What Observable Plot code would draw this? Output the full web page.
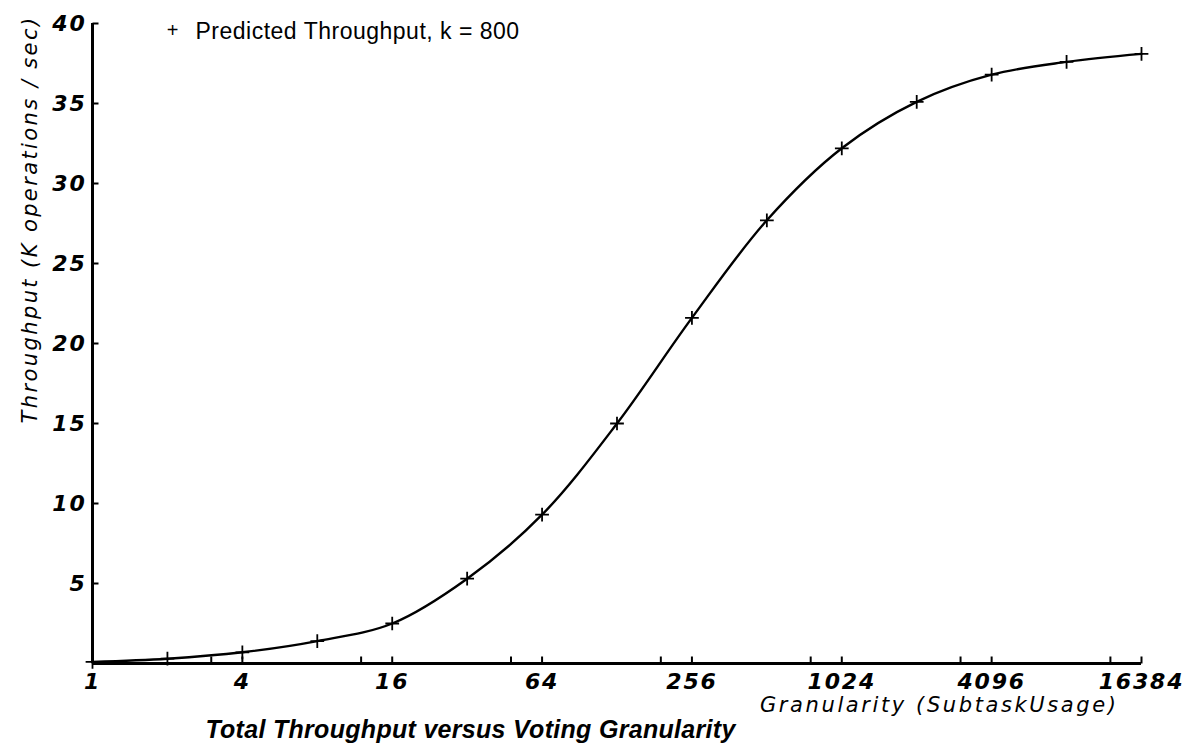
<!DOCTYPE html>
<html>
<head>
<meta charset="utf-8">
<script src="https://cdn.jsdelivr.net/npm/d3@7"></script>
<script src="https://cdn.jsdelivr.net/npm/@observablehq/plot@0.6"></script>
<style>
  html, body { margin: 0; padding: 0; background: #fff; }
  #chart { width: 1202px; height: 755px; }
  g[aria-label="x-axis tick label"] text, g[aria-label="y-axis tick label"] text { letter-spacing: 1.8px; }
</style>
</head>
<body>
<div id="chart"></div>
<script>
// Data
const granularity = [1, 2, 4, 8, 16, 32, 64, 128, 256, 512, 1024, 2048, 4096, 8192, 16384];
const throughput  = [0.1, 0.3, 0.7, 1.4, 2.5, 5.3, 9.3, 15.0, 21.6, 27.7, 32.2, 35.1, 36.8, 37.6, 38.1];
const xTickLabels = [1, 4, 16, 64, 256, 1024, 4096, 16384];
const xMinorTicks = [3, 12, 48, 192, 768, 3072, 12288];
const yTickLabels = [5, 10, 15, 20, 25, 30, 35, 40];
const legendText = "Predicted Throughput, k = 800";
const xLabel = "Granularity (SubtaskUsage)";
const yLabel = "Throughput (K operations / sec)";
const title = "Total Throughput versus Voting Granularity";

const data = granularity.map((g, i) => ({g, t: throughput[i]}));

const upTick = {draw(ctx) { ctx.moveTo(0, 0); ctx.lineTo(0, -7); }};
const rightTick = {draw(ctx) { ctx.moveTo(0, 0); ctx.lineTo(6, 0); }};

const font = "Liberation Sans, Arial, Helvetica, sans-serif";
const wide = "DejaVu Sans, Verdana, sans-serif";

const chart = Plot.plot({
  width: 1202,
  height: 755,
  marginLeft: 92,
  marginRight: 61,
  marginTop: 23,
  marginBottom: 92,
  style: {background: "#fff", color: "#000", fontFamily: font},
  x: {type: "log", base: 2, domain: [1, 16384]},
  y: {domain: [0, 40]},
  marks: [
    Plot.axisX({ticks: xTickLabels, tickFormat: d => String(d), tickSize: 0, tickPadding: 10,
      fontFamily: wide, fontSize: 22, fontWeight: "bold", fontStyle: "italic", label: null, fill: "#000"}),
    Plot.axisY({ticks: yTickLabels, tickSize: 0, tickPadding: 6,
      fontFamily: wide, fontSize: 22, fontWeight: "bold", fontStyle: "italic", label: null, fill: "#000"}),
    Plot.dot(xTickLabels.concat(xMinorTicks), {x: d => d, frameAnchor: "bottom", symbol: upTick, stroke: "#000", strokeWidth: 2}),
    Plot.dot(yTickLabels, {y: d => d, frameAnchor: "left", symbol: rightTick, stroke: "#000", strokeWidth: 2}),
    Plot.ruleX([1], {stroke: "#000", strokeWidth: 3}),
    Plot.ruleY([0], {stroke: "#000", strokeWidth: 3}),
    Plot.line(data, {x: "g", y: "t", curve: "catmull-rom", stroke: "#000", strokeWidth: 2.4}),
    Plot.dot(data, {x: "g", y: "t", symbol: "plus", r: 4.5, stroke: "#000", strokeWidth: 1.8}),
    Plot.text(["+"], {frameAnchor: "top-left", dx: 80, dy: -1, fontSize: 20, fill: "#000", textAnchor: "middle"}),
    Plot.text([legendText], {frameAnchor: "top-left", dx: 103, dy: -1, fontSize: 23, fill: "#000", textAnchor: "start"}),
    Plot.text([xLabel], {frameAnchor: "bottom-right", dx: -23, dy: 48, fontFamily: wide, fontSize: 21, fontStyle: "italic", fill: "#000", textAnchor: "end"}),
    Plot.text([title], {frameAnchor: "bottom-left", dx: 378, dy: 74, fontSize: 25, fontStyle: "italic", fontWeight: "bold", fill: "#000", textAnchor: "middle"}),
    Plot.text([yLabel], {frameAnchor: "top-left", dx: -70, dy: 196, rotate: -90, fontFamily: wide, fontSize: 21, fontStyle: "italic", fill: "#000", textAnchor: "middle"})
  ]
});
// letter spacing for the wide, spaced-out lettering of the original
d3.select(chart).selectAll("text").each(function() {
  const t = this.textContent;
  if (t === xLabel) this.style.letterSpacing = "2.6px";
  else if (t === yLabel) this.style.letterSpacing = "2.4px";
  else if (t === legendText) this.style.letterSpacing = "0.5px";
  else if (t === title) this.style.letterSpacing = "0.3px";
});
document.getElementById("chart").appendChild(chart);
</script>
</body>
</html>
